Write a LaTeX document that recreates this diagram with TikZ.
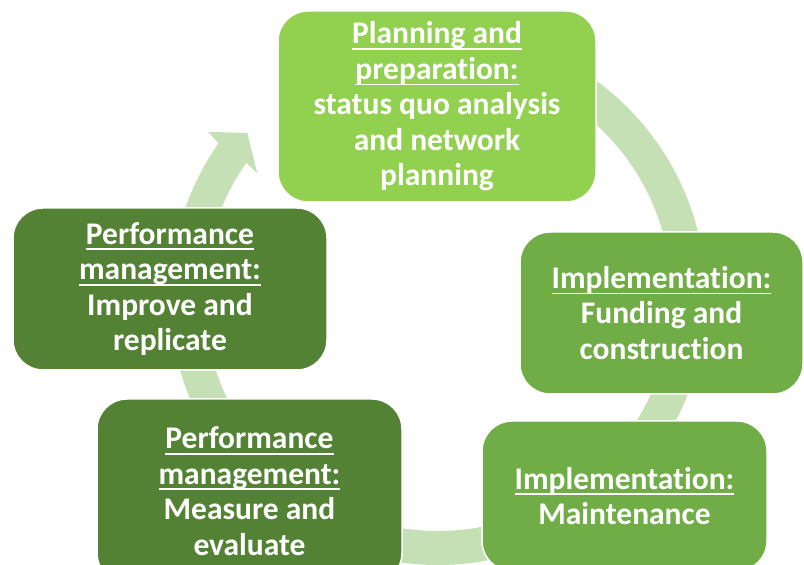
\documentclass[tikz,border=0pt]{standalone}
\usepackage{fontspec}
\setmainfont[RawFeature=-liga]{Carlito}
\definecolor{cTop}{HTML}{92D050}
\definecolor{cMid}{HTML}{70AD47}
\definecolor{cDark}{HTML}{548235}
\definecolor{cBand}{HTML}{C5E0B4}
\newcommand\ulx[1]{\setbox0=\hbox{#1}\rlap{\rule[-6pt]{\wd0}{1.8pt}}\box0}
\tikzset{
  stagebox/.style={rectangle, rounded corners=30pt, draw=white, line width=1.5pt,
    inner sep=0pt, outer sep=0pt, align=center, text=white,
    font=\fontsize{31.5}{35.5}\selectfont\bfseries},
  bandfill/.style={fill=cBand, draw=none}
}
\begin{document}
\begin{tikzpicture}[x=1pt,y=1pt]
\useasboundingbox (0,0) rectangle (804,565);
\clip (0,0) rectangle (804,565);
\coordinate (C) at (438,268);
% circular arrow band
\begin{scope}[shift={(C)}]
\fill[bandfill] (95:268) arc[start angle=95, end angle=-215, radius=268]
  -- (144.3:283) -- (139.3:251.5) -- (145.6:219) -- (-215:234)
  arc[start angle=-215, end angle=95, radius=234] -- cycle;
\end{scope}
% boxes
\node[stagebox, fill=cTop, minimum width=318pt, minimum height=191pt] (plan) at (437,458.5)
  {\ulx{Planning and}\\\ulx{preparation:}\\status quo analysis\\and network\\planning};
\node[stagebox, fill=cMid, minimum width=283pt, minimum height=162pt] (impl1) at (661.5,252)
  {\ulx{Implementation:}\\Funding and\\construction};
\node[stagebox, fill=cMid, minimum width=285pt, minimum height=150pt] (impl2) at (624.5,69)
  {\ulx{Implementation:}\\Maintenance};
\node[stagebox, fill=cDark, minimum width=305pt, minimum height=184pt] (perf1) at (249.5,74)
  {\ulx{Performance}\\\ulx{management:}\\Measure and\\evaluate};
\node[stagebox, fill=cDark, minimum width=314pt, minimum height=162pt] (perf2) at (170,276)
  {\ulx{Performance}\\\ulx{management:}\\Improve and\\replicate};
\end{tikzpicture}
\end{document}
